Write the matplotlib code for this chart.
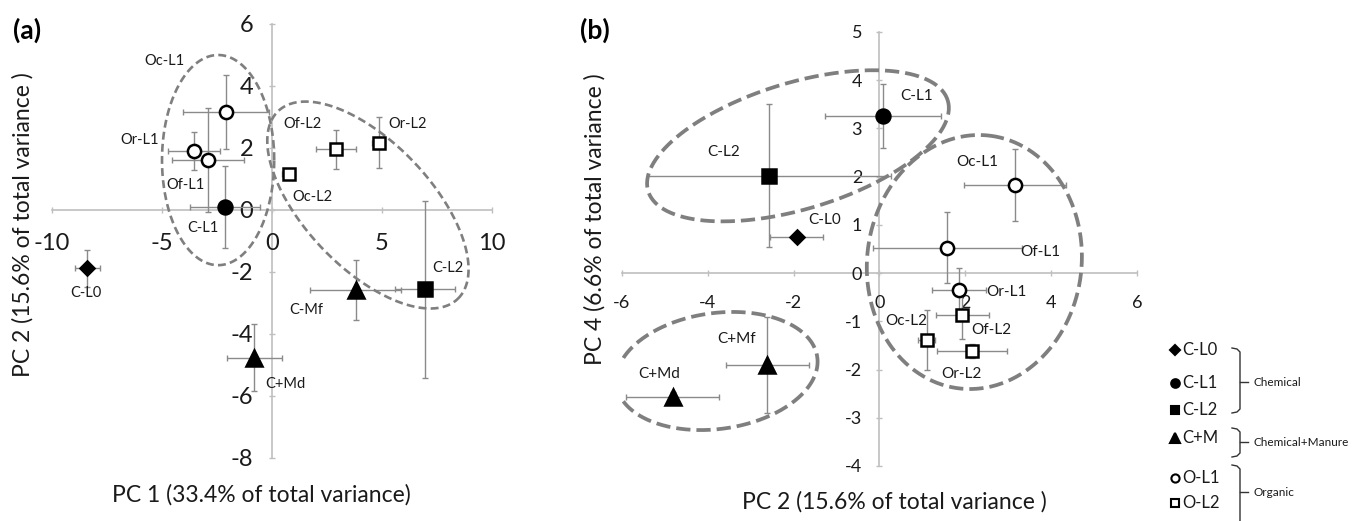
import numpy as np
import matplotlib
matplotlib.use('Agg')
import matplotlib.pyplot as plt

plt.rcParams['font.family'] = ['Lato', 'DejaVu Sans']

# ---------------- data: panel (a) PC1 vs PC2 ----------------
a_labels = ['C-L0', 'C-L1', 'C-L2', 'C-Mf', 'C+Md', 'Oc-L1', 'Or-L1', 'Of-L1', 'Oc-L2', 'Of-L2', 'Or-L2']
a_groups = ['C-L0', 'C-L1', 'C-L2', 'C+M', 'C+M', 'O-L1', 'O-L1', 'O-L1', 'O-L2', 'O-L2', 'O-L2']
a_pc1 = [-8.4, -2.15, 6.95, 3.8, -0.8, -2.1, -3.55, -2.9, 0.75, 2.9, 4.85]
a_pc1_err = [0.57, 1.6, 1.36, 2.08, 1.25, 1.95, 1.2, 1.63, 0.3, 0.9, 0.3]
a_pc2 = [-1.88, 0.1, -2.56, -2.58, -4.76, 3.17, 1.9, 1.61, 1.16, 1.96, 2.17]
a_pc2_err = [0.6, 1.33, 2.85, 0.96, 1.07, 1.2, 0.62, 1.68, 0.15, 0.63, 0.82]
a_xticks = [-10, -5, 0, 5, 10]
a_yticks = [-8, -6, -4, -2, 0, 2, 4, 6]

# ---------------- data: panel (b) PC2 vs PC4 ----------------
b_labels = ['C-L0', 'C-L1', 'C-L2', 'C+Mf', 'C+Md', 'Oc-L1', 'Or-L1', 'Of-L1', 'Oc-L2', 'Of-L2', 'Or-L2']
b_groups = ['C-L0', 'C-L1', 'C-L2', 'C+M', 'C+M', 'O-L1', 'O-L1', 'O-L1', 'O-L2', 'O-L2', 'O-L2']
b_pc2 = [-1.93, 0.09, -2.57, -2.61, -4.82, 3.15, 1.86, 1.58, 1.1, 1.93, 2.15]
b_pc2_err = [0.62, 1.35, 2.84, 0.97, 1.09, 1.19, 0.63, 1.73, 0.2, 0.62, 0.82]
b_pc4 = [0.74, 3.26, 2.02, -1.91, -2.57, 1.83, -0.35, 0.53, -1.38, -0.87, -1.62]
b_pc4_err = [0.1, 0.67, 1.48, 1.0, 0.1, 0.74, 0.46, 0.73, 0.62, 0.5, 0.15]
b_xticks = [-6, -4, -2, 0, 2, 4, 6]
b_yticks = [-4, -3, -2, -1, 0, 1, 2, 3, 4, 5]

# legend groups
legend_entries = ['C-L0', 'C-L1', 'C-L2', 'C+M', 'O-L1', 'O-L2']
legend_brackets = ['Chemical', 'Chemical+Manure', 'Organic']

# ---------------- styles / layout ----------------
styles = {
    'C-L0': dict(marker='D', mfc='black', ms=7.5),
    'C-L1': dict(marker='o', mfc='black', ms=10),
    'C-L2': dict(marker='s', mfc='black', ms=9.5),
    'C+M': dict(marker='^', mfc='black', ms=11),
    'O-L1': dict(marker='o', mfc='white', ms=9.5),
    'O-L2': dict(marker='s', mfc='white', ms=9),
}
# label offsets in pixels (dx, dy up)
a_off = {'C-L0': (-1, -25), 'C-L1': (-22, -21), 'C-L2': (23, 21), 'C-Mf': (-49, -20), 'C+Md': (31, -26),
         'Oc-L1': (-61, 51), 'Or-L1': (-54, 11), 'Of-L1': (-23, -25), 'Oc-L2': (24, -23),
         'Of-L2': (-33, 25), 'Or-L2': (29, 19)}
b_off = {'C-L0': (28, 17), 'C-L1': (33, 20), 'C-L2': (-46, 24), 'C+Mf': (-31, 26), 'C+Md': (-13, 23),
         'Oc-L1': (-37, 23), 'Or-L1': (47, -2), 'Of-L1': (93, -4), 'Oc-L2': (-20, 19),
         'Of-L2': (29, -15), 'Or-L2': (-10, -23)}
# grouping ellipses: centre, two conjugate half-axis vectors (data units)
a_ellipses = [((-2.45, 1.61), (2.55, 0.0), (0.0, 3.39)),
              ((4.36, 0.16), (4.08, -3.03), (2.07, 1.40))]
b_ellipses = [((-1.90, 2.64), (3.49, 0.94), (0.425, -1.254)),
              ((2.21, 0.23), (0.362, 2.62), (2.48, -0.27)),
              ((-3.79, -2.03), (2.34, 0.29), (0.188, -1.19))]

W, H = 1358, 521
fig = plt.figure(figsize=(W / 100, H / 100), dpi=100)

AX_COL = '#bfbfbf'
TXT = '#1a1a1a'
ERR = '#8a8a8a'
ELL = '#7f7f7f'


def setup_axes(ax, xlim, ylim, xticks, yticks, fs, xpad, ypad):
    ax.set_xlim(*xlim)
    ax.set_ylim(*ylim)
    ax.patch.set_alpha(0)
    for s in ['top', 'right']:
        ax.spines[s].set_visible(False)
    ax.spines['left'].set_position(('data', 0))
    ax.spines['bottom'].set_position(('data', 0))
    for s in ['left', 'bottom']:
        ax.spines[s].set_color(AX_COL)
        ax.spines[s].set_linewidth(1.2)
        ax.spines[s].set_zorder(0.5)
    ax.set_xticks(xticks)
    ax.set_yticks(yticks)
    ax.set_xticklabels([str(t) for t in xticks])
    ax.set_yticklabels([str(t) for t in yticks])
    ax.tick_params(axis='both', direction='inout', length=5, width=1, color=AX_COL,
                   labelsize=fs, labelcolor=TXT)
    ax.tick_params(axis='x', pad=xpad)
    ax.tick_params(axis='y', pad=ypad)


def draw_panel(ax, xs, xe, ys, ye, labels, groups, offs, ellipses, lfs, ell_lw, ell_dash):
    ax.errorbar(xs, ys, xerr=xe, yerr=ye, fmt='none', ecolor=ERR, elinewidth=1.0,
                capsize=2.5, capthick=1.0, zorder=2)
    for g, st in styles.items():
        idx = [i for i, gg in enumerate(groups) if gg == g]
        if not idx:
            continue
        ax.plot([xs[i] for i in idx], [ys[i] for i in idx], linestyle='none',
                marker=st['marker'], markersize=st['ms'], markerfacecolor=st['mfc'],
                markeredgecolor='black', markeredgewidth=1.8, zorder=4)
    for i, lab in enumerate(labels):
        ax.annotate(lab, (xs[i], ys[i]), xytext=offs[lab], textcoords='offset pixels',
                    ha='center', va='center', fontsize=lfs, color=TXT, zorder=5)
    t = np.linspace(0, 2 * np.pi, 400)
    for c, A, B in ellipses:
        ex = c[0] + A[0] * np.cos(t) + B[0] * np.sin(t)
        ey = c[1] + A[1] * np.cos(t) + B[1] * np.sin(t)
        ax.plot(ex, ey, color=ELL, lw=ell_lw, dashes=ell_dash, zorder=3)


LAB_FS = 16.5

# ---------------- panel (a) ----------------
axa = fig.add_axes([52 / W, 1 - 458 / H, 440 / W, 434 / H])
setup_axes(axa, (-10, 10), (-8, 6), a_xticks, a_yticks, fs=17, xpad=14, ypad=11)
draw_panel(axa, a_pc1, a_pc1_err, a_pc2, a_pc2_err, a_labels, a_groups, a_off, a_ellipses,
           lfs=10.5, ell_lw=1.9, ell_dash=(3.0, 1.6))
axa.set_xlabel('PC 1 (33.4% of total variance)', fontsize=LAB_FS, color=TXT, va='center', ha='center')
axa.xaxis.set_label_coords((261 - 52) / 440, (458 - 495) / 434)
axa.set_ylabel('PC 2 (15.6% of total variance )', fontsize=LAB_FS, color=TXT, va='center', ha='center')
axa.yaxis.set_label_coords((23 - 52) / 440, (458 - 224.5) / 434)
fig.text(27 / W, 1 - 30 / H, '(a)', fontsize=19, fontweight='bold', ha='center', va='center', color='black')

# ---------------- panel (b) ----------------
axb = fig.add_axes([622 / W, 1 - 466 / H, 515 / W, 434 / H])
setup_axes(axb, (-6, 6), (-4, 5), b_xticks, b_yticks, fs=13, xpad=13, ypad=10)
draw_panel(axb, b_pc2, b_pc2_err, b_pc4, b_pc4_err, b_labels, b_groups, b_off, b_ellipses,
           lfs=11, ell_lw=2.7, ell_dash=(3.8, 1.6))
axb.set_xlabel('PC 2 (15.6% of total variance )', fontsize=LAB_FS, color=TXT, va='center', ha='center')
axb.xaxis.set_label_coords((894 - 622) / 515, (466 - 501.7) / 434)
axb.set_ylabel('PC 4 (6.6% of total variance )', fontsize=LAB_FS, color=TXT, va='center', ha='center')
axb.yaxis.set_label_coords((595 - 622) / 515, (466 - 219) / 434)
fig.text(595 / W, 1 - 30 / H, '(b)', fontsize=19, fontweight='bold', ha='center', va='center', color='black')

# ---------------- legend ----------------
axl = fig.add_axes([1160 / W, 0, 198 / W, 191 / H])
axl.set_xlim(0, 198)
axl.set_ylim(191, 0)
axl.axis('off')
entry_y = [20, 53, 80, 108, 148, 173]
for g, yy in zip(legend_entries, entry_y):
    st = styles[g]
    axl.plot([15], [yy], linestyle='none', marker=st['marker'], markersize=st['ms'] * 0.62,
             markerfacecolor=st['mfc'], markeredgecolor='black', markeredgewidth=1.5, clip_on=False)
    axl.text(22, yy, g, fontsize=12, va='center', ha='left', color=TXT)
brackets = [(18, 83, 52), (98, 127, 112), (135, 195, 162)]
for name, (top, bot, mid) in zip(legend_brackets, brackets):
    axl.plot([72, 77, 80, 80, 77, 72], [top, top + 1, top + 4, bot - 4, bot - 1, bot],
             color='#333333', lw=1.0, clip_on=False)
    axl.plot([80, 88], [mid, mid], color='#333333', lw=1.0)
    axl.text(94, mid, name, fontsize=8.5, va='center', ha='left', color=TXT)

fig.savefig('out.png', dpi=100)
